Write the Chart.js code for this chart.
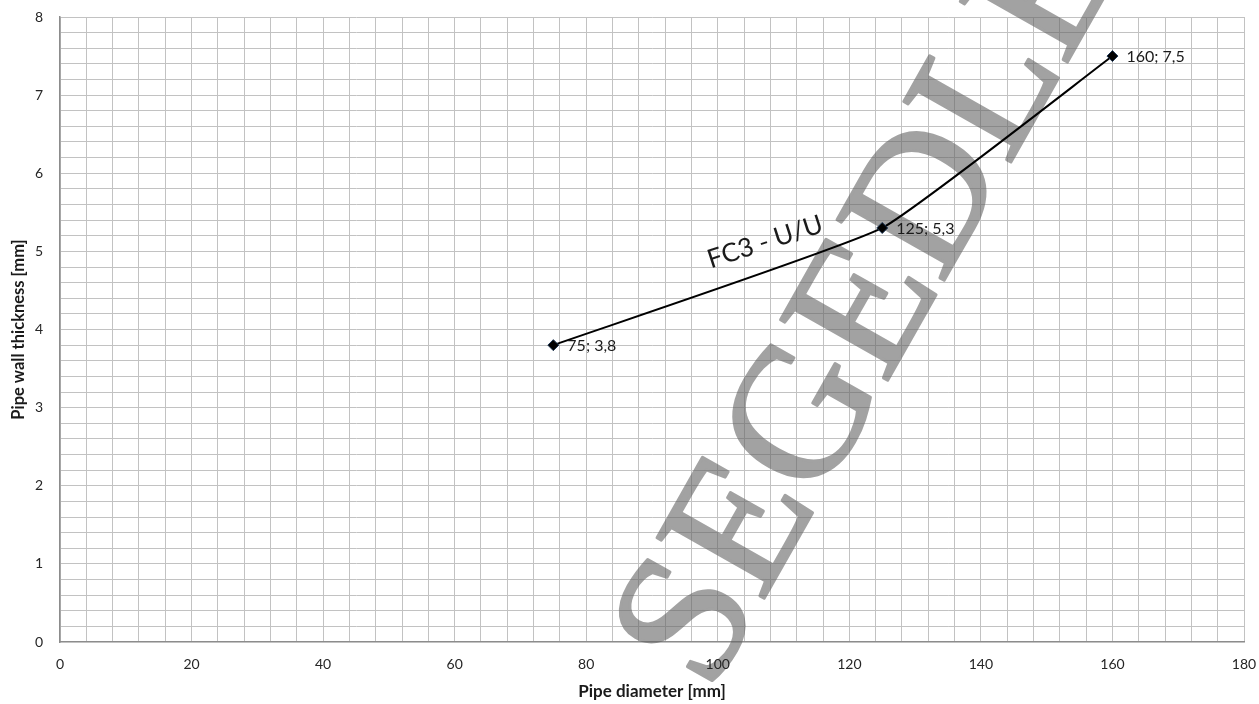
<!DOCTYPE html>
<html>
<head>
<meta charset="utf-8">
<script src="https://cdn.jsdelivr.net/npm/chart.js@4"></script>
<style>
  html, body { margin: 0; padding: 0; background: #ffffff; }
  #wrap { width: 1259px; height: 704px; position: relative; }
</style>
</head>
<body>
<div id="wrap"><canvas id="c" width="1259" height="704"></canvas></div>
<script>
// ---- data ----
const diameters = [75, 125, 160];
const thickness = [3.8, 5.3, 7.5];
const pointLabels = ["75; 3,8", "125; 5,3", "160; 7,5"];
const seriesLabel = "FC3 - U/U";
const seriesLabelAt = [107.2, 5.12];
const xTitle = "Pipe diameter [mm]";
const yTitle = "Pipe wall thickness [mm]";
const watermarkText = "SEGEDLET";

const FONT = "Lato, 'Liberation Sans', sans-serif";

const points = diameters.map((x, i) => ({ x: x, y: thickness[i] }));

const decor = {
  id: 'decor',
  beforeDatasetsDraw(chart) {
    const ctx = chart.ctx;
    ctx.save();
    ctx.translate(710, 694);
    ctx.rotate(-60.5 * Math.PI / 180);
    ctx.font = "188px 'Liberation Serif', 'DejaVu Serif', serif";
    ctx.textAlign = 'left';
    ctx.textBaseline = 'alphabetic';
    // draw opaque gray on an offscreen layer to avoid double alpha on the stroke
    const off = document.createElement('canvas');
    off.width = chart.width; off.height = chart.height;
    const o = off.getContext('2d');
    o.setTransform(ctx.getTransform());
    o.font = ctx.font;
    o.textAlign = 'left';
    o.textBaseline = 'alphabetic';
    o.fillStyle = '#646464';
    o.strokeStyle = '#646464';
    o.lineWidth = 3;
    o.lineJoin = 'round';
    o.fillText(watermarkText, 0, 0);
    o.strokeText(watermarkText, 0, 0);
    ctx.restore();
    ctx.save();
    ctx.globalAlpha = 0.6;
    ctx.drawImage(off, 0, 0);
    ctx.restore();
  },
  afterDatasetsDraw(chart) {
    const ctx = chart.ctx;
    const xs = chart.scales.x, ys = chart.scales.y;
    ctx.save();
    ctx.font = "16px " + FONT;
    ctx.fillStyle = '#1a1a1a';
    ctx.textAlign = 'left';
    ctx.textBaseline = 'middle';
    points.forEach((p, i) => {
      ctx.fillText(pointLabels[i], xs.getPixelForValue(p.x) + 14, ys.getPixelForValue(p.y) + 1);
    });
    ctx.translate(xs.getPixelForValue(seriesLabelAt[0]), ys.getPixelForValue(seriesLabelAt[1]));
    ctx.rotate(-18 * Math.PI / 180);
    ctx.font = "26px " + FONT;
    ctx.fillStyle = '#1a1a1a';
    ctx.textAlign = 'center';
    ctx.fillText(seriesLabel, 0, 0);
    ctx.restore();
  }
};

new Chart(document.getElementById('c'), {
  type: 'scatter',
  data: {
    datasets: [{
      label: seriesLabel,
      data: points,
      showLine: true,
      borderColor: '#000000',
      borderWidth: 2,
      tension: 0.12,
      pointStyle: 'rectRot',
      pointRadius: 5.5,
      pointHoverRadius: 5.5,
      pointBackgroundColor: '#000000',
      pointBorderColor: '#1c3553',
      pointBorderWidth: 1
    }]
  },
  options: {
    responsive: false,
    animation: false,
    events: [],
    layout: { padding: { top: 17, right: 15, left: 0, bottom: 0 } },
    plugins: { legend: { display: false }, tooltip: { enabled: false } },
    scales: {
      x: {
        type: 'linear',
        min: 0, max: 180,
        afterFit(s) { s.height = 62; s.paddingLeft = 0; s.paddingRight = 0; },
        grid: { color: '#c2c2c2', lineWidth: 1, drawTicks: false, z: 0 },
        border: { color: '#8c8c8c', width: 1.5 },
        ticks: {
          stepSize: 4, autoSkip: false, maxRotation: 0, padding: 14, z: 1,
          color: '#262626', font: { family: FONT, size: 14 },
          callback: v => (Math.abs(v % 20) < 1e-6 ? String(Math.round(v)) : '')
        },
        title: { display: true, text: xTitle, color: '#1a1a1a',
          font: { family: FONT, size: 17, weight: 'bold' }, padding: { top: 0, bottom: 2 } }
      },
      y: {
        type: 'linear',
        min: 0, max: 8,
        afterFit(s) { s.width = 60; s.paddingTop = 0; s.paddingBottom = 0; },
        grid: { color: '#c2c2c2', lineWidth: 1, drawTicks: false, z: 0 },
        border: { color: '#8c8c8c', width: 1.5 },
        ticks: {
          stepSize: 0.2, autoSkip: false, padding: 17, z: 1,
          color: '#262626', font: { family: FONT, size: 14 },
          callback: v => (Math.abs(v - Math.round(v)) < 1e-6 ? String(Math.round(v)) : '')
        },
        title: { display: true, text: yTitle, color: '#1a1a1a',
          font: { family: FONT, size: 16.5, weight: 'bold' }, padding: { top: 8.5, bottom: 0 } }
      }
    }
  },
  plugins: [decor]
});
</script>
</body>
</html>
